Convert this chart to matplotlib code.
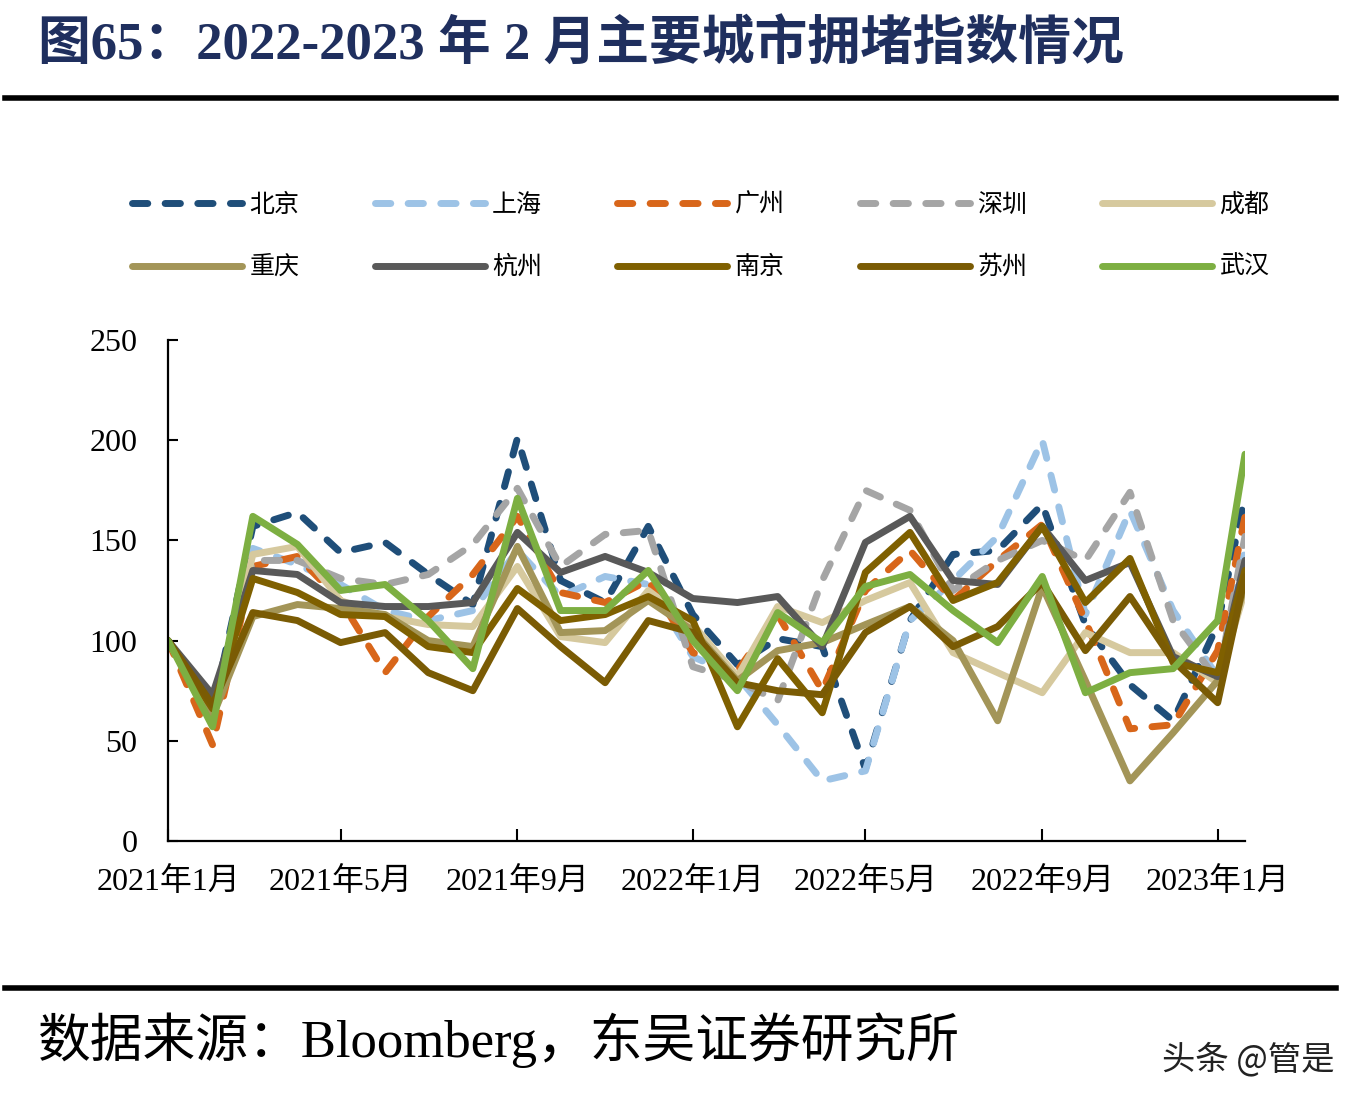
import numpy as np
import pandas as pd
import matplotlib
matplotlib.use("Agg")
import matplotlib.pyplot as plt
from matplotlib.lines import Line2D

SERIF = ["Liberation Serif", "Noto Sans CJK SC"]
plt.rcParams["font.family"] = SERIF

# monthly points 2021-01 .. 2023-01, plus the partial Feb-2023 reading
dates = list(pd.date_range("2021-01-01", "2023-01-01", freq="MS")) + [pd.Timestamp("2023-01-20")]

cities = ["北京", "上海", "广州", "深圳", "成都", "重庆", "杭州", "南京", "苏州", "武汉"]

beijing = [100, 65, 157, 164, 144, 149, 133, 118, 201, 130, 119, 157, 113, 88, 101, 97, 36, 110, 143, 145, 168, 108, 78, 60, 108, 172]
shanghai = [100, 60, 146, 138, 128, 115, 110, 115, 145, 122, 132, 128, 92, 82, 58, 30, 35, 110, 130, 152, 200, 113, 165, 115, 82, 145]
guangzhou = [100, 48, 137, 142, 120, 84, 112, 133, 162, 124, 119, 130, 94, 85, 113, 75, 125, 145, 120, 140, 158, 110, 56, 58, 95, 162]
shenzhen = [100, 62, 140, 140, 131, 128, 133, 148, 176, 137, 153, 155, 87, 80, 70, 130, 175, 165, 125, 140, 150, 140, 174, 110, 80, 152]
chengdu = [100, 60, 143, 147, 120, 112, 108, 107, 137, 102, 99, 125, 108, 82, 117, 109, 120, 129, 94, 84, 74, 104, 94, 94, 79, 125]
chongqing = [100, 62, 112, 118, 116, 113, 100, 97, 147, 104, 105, 120, 105, 80, 95, 99, 108, 117, 100, 60, 127, 80, 30, 54, 80, 128]
hangzhou = [100, 73, 135, 133, 119, 117, 117, 119, 154, 134, 142, 134, 121, 119, 122, 97, 149, 162, 130, 128, 157, 130, 139, 92, 82, 140]
nanjing = [100, 66, 131, 124, 113, 112, 97, 94, 126, 110, 113, 122, 110, 57, 91, 64, 134, 154, 120, 129, 157, 119, 141, 89, 84, 135]
suzhou = [100, 68, 114, 110, 99, 104, 84, 75, 116, 97, 79, 110, 104, 79, 75, 73, 104, 117, 97, 107, 129, 95, 122, 90, 69, 132]
wuhan = [100, 57, 162, 148, 125, 128, 110, 86, 171, 115, 115, 135, 100, 75, 114, 99, 127, 133, 115, 99, 132, 74, 84, 86, 110, 193]

series = [beijing, shanghai, guangzhou, shenzhen, chengdu,
          chongqing, hangzhou, nanjing, suzhou, wuhan]
colors = ["#1F4E79", "#9DC3E6", "#D8661A", "#A5A5A5", "#D6C99E",
          "#A39558", "#595959", "#7F6000", "#7A5B04", "#7DAF42"]
dashed = [True, True, True, True, False, False, False, False, False, False]

tick_dates = ["2021-01-01", "2021-05-01", "2021-09-01", "2022-01-01",
              "2022-05-01", "2022-09-01", "2023-01-01"]
tick_labels = ["2021年1月", "2021年5月", "2021年9月", "2022年1月",
               "2022年5月", "2022年9月", "2023年1月"]

W, H = 1366, 1110
fig = plt.figure(figsize=(W / 100, H / 100), dpi=100)
ax = fig.add_axes([168 / W, 1 - 841 / H, (1245 - 168) / W, (841 - 340) / H])

handles = []
for name, vals, c, d in zip(cities, series, colors, dashed):
    kw = dict(color=c, lw=5, solid_joinstyle="round", solid_capstyle="round",
              dash_joinstyle="round", dash_capstyle="round")
    if d:
        kw["dashes"] = (2.2, 2.5)
    (ln,) = ax.plot(dates, vals, label=name, **kw)
    handles.append(ln)

ax.set_xlim(dates[0], dates[-1])
ax.set_ylim(0, 250)
ax.set_yticks([0, 50, 100, 150, 200, 250])
ax.set_xticks(pd.to_datetime(tick_dates))
ax.set_xticklabels(tick_labels)
for s in ["top", "right"]:
    ax.spines[s].set_visible(False)
for s in ["left", "bottom"]:
    ax.spines[s].set_linewidth(1.6)
ax.tick_params(axis="y", direction="in", length=7, width=1.5, pad=22, labelsize=23)
ax.tick_params(axis="x", direction="in", length=9, width=1.5, pad=19, labelsize=23)

# legend fills column-wise, so interleave to get two rows of five
order = [0, 5, 1, 6, 2, 7, 3, 8, 4, 9]
leg = fig.legend(handles=[handles[i] for i in order], ncol=5, loc="upper left",
                 bbox_to_anchor=(132 / W, 1 - 192 / H), frameon=False,
                 prop={"family": ["Noto Sans CJK SC"], "size": 18},
                 handlelength=4.4, handletextpad=0.3, columnspacing=3.0,
                 labelspacing=1.45, borderpad=0, borderaxespad=0)

fig.text(38 / W, 1 - 45 / H, "图65：2022-2023 年 2 月主要城市拥堵指数情况",
         fontsize=38, fontweight="bold", color="#1F2F5E", va="center")
fig.add_artist(Line2D([5 / W, 1336 / W], [1 - 98 / H] * 2, lw=4, color="black"))
fig.add_artist(Line2D([5 / W, 1336 / W], [1 - 988 / H] * 2, lw=4, color="black"))
fig.text(38 / W, 1 - 1040 / H, "数据来源：Bloomberg，东吴证券研究所",
         fontsize=38, color="black", va="center")
fig.text(1335 / W, 1 - 1060 / H, "头条 @管是", fontsize=24, color="#222222",
         va="center", ha="right", family=["Noto Sans CJK SC", "DejaVu Sans"])

fig.savefig("out.png", dpi=100)
